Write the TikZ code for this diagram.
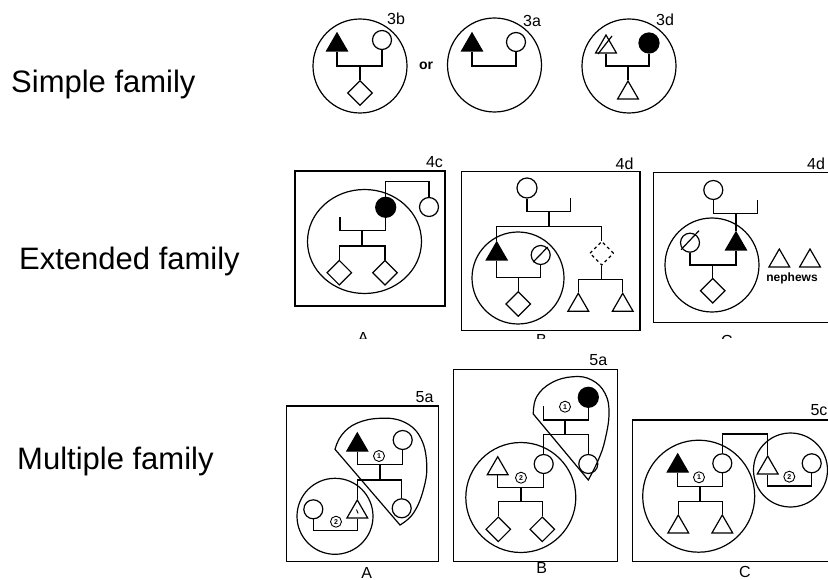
\documentclass[tikz,border=0pt]{standalone}
\usepackage{fontspec}
\setmainfont{Liberation Sans}
\usetikzlibrary{shapes.geometric,calc}
\tikzset{
 ln/.style={line width=1.2pt},
 per/.style={draw, line width=1.2pt, inner sep=0pt},
 fem/.style={per, circle, minimum size=19pt},
 ffem/.style={fem, fill=black, minimum size=20pt},
 mal/.style={per, regular polygon, regular polygon sides=3, minimum size=24pt},
 fmal/.style={mal, fill=black},
 unk/.style={per, diamond, minimum size=25pt},
 ring/.style={draw, line width=1.2pt, circle, inner sep=0pt},
 numc/.style={draw, circle, line width=0.9pt, minimum size=11pt, inner sep=0pt, font=\fontsize{7}{7}\selectfont\bfseries},
 tag/.style={font=\fontsize{16}{16}\selectfont, inner sep=0pt},
 big/.style={font=\fontsize{16}{16}\selectfont, inner sep=0pt},
 side/.style={font=\fontsize{31}{36}\selectfont, anchor=base west, inner sep=0pt},
 panel/.style={line width=1.2pt},
}
\begin{document}
\begin{tikzpicture}[x=1pt,y=-1pt]
\useasboundingbox (0,0) rectangle (828,580);
\clip (0,0) rectangle (828,580);
\fill[white] (0,0) rectangle (828,580);

% side labels
\node[side] (L1) at (11,93) {Simple family};
\node[side] (L2) at (19,270) {Extended family};
\node[side] (L3) at (17,469) {Multiple family};

% ================= ROW 1 =================
% 3b
\node[ring, minimum size=94pt] (R3b) at (360,66) {};
\node[tag] (T3b) at (396,19) {3b};
\node[fmal] (t3b) at (337,45) {};
\node[fem] (c3b) at (382,40) {};
\node[unk] (d3b) at (360,93) {};
\coordinate (m3b) at (360,66);
\draw[ln] (t3b.south) |- (m3b) -| (c3b.south);
\draw[ln] (m3b) -- (d3b.north);
\node[font=\fontsize{14}{14}\selectfont\bfseries, inner sep=0pt] (or) at (426,66) {or};

% 3a
\node[ring, minimum size=94pt] (R3a) at (494.5,65) {};
\node[tag] (T3a) at (532,21) {3a};
\node[fmal] (t3a) at (472,45) {};
\node[fem] (c3a) at (516,42) {};
\coordinate (m3a) at (494,66);
\draw[ln] (t3a.south) |- (m3a) -| (c3a.south);

% 3d
\node[ring, minimum size=94pt] (R3d) at (629,66) {};
\node[tag] (T3d) at (665,20) {3d};
\node[mal] (t3d) at (606,47) {};
\draw[ln] ($(t3d)+(-8,7)$) -- ($(t3d)+(6,-11)$);
\node[ffem] (c3d) at (649,43) {};
\node[mal] (k3d) at (628,93) {};
\coordinate (m3d) at (628,66);
\draw[ln] (t3d.south) |- (m3d) -| (c3d.south);
\draw[ln] (m3d) -- (k3d.north);

% ================= ROW 2 =================
% 4c (A)
\draw[panel] (295,171) rectangle (445,306);
\node[tag] (T4c) at (434.5,162) {4c};
\node[draw, line width=1.2pt, ellipse, minimum width=114pt, minimum height=104pt, inner sep=0pt] (R4c) at (364.5,241.5) {};
\node[ffem] (f4c) at (385.7,207.3) {};
\node[fem] (c4c) at (429,207) {};
\coordinate (k4c) at (407,181.7);
\draw[ln] (f4c.north) |- (k4c) -| (c4c.north);
\coordinate (m4c) at (362,230.7);
\coordinate (e4c) at (340,217);
\draw[ln] (f4c.south) |- (m4c) -| (e4c);
\coordinate (s4c) at (362,246);
\node[unk] (d4c1) at (339.3,272.7) {};
\node[unk] (d4c2) at (385,272.7) {};
\draw[ln] (m4c) -- (s4c);
\draw[ln] (d4c1.north) |- (s4c) -| (d4c2.north);

% 4d (B)
\draw[panel] (461.7,171.7) rectangle (640,330.7);
\node[tag] (T4d) at (624.5,163.8) {4d};
\node[fem, minimum size=20pt] (g4d) at (527,188) {};
\coordinate (m4dg) at (549,211.7);
\coordinate (e4dg) at (570.7,198);
\draw[ln] (g4d.south) |- (m4dg) -| (e4dg);
\coordinate (s4d) at (549,226.7);
\draw[ln] (m4dg) -- (s4d);
\node[ring, minimum size=92pt] (R4d) at (518,278) {};
\node[fmal] (t4d) at (496.7,254) {};
\node[per, dashed, diamond, minimum size=24pt] (dd4d) at (601.7,253.3) {};
\draw[ln] (t4d.north) |- (s4d) -| (dd4d.north);
\node[fem] (sc4d) at (540.7,255) {};
\draw[ln] ($(sc4d)+(-7.5,7)$) -- ($(sc4d)+(7,-8)$);
\coordinate (m4d) at (518.3,277.3);
\draw[ln] (t4d.south) |- (m4d) -| (sc4d.south);
\node[unk] (d4d) at (518.3,304) {};
\draw[ln] (m4d) -- (d4d.north);
\coordinate (s4dn) at (601.7,279.3);
\node[mal] (tn1) at (578.3,305.3) {};
\node[mal] (tn2) at (622.7,305.3) {};
\draw[ln] (dd4d.south) -- (s4dn);
\draw[ln] (tn1.north) |- (s4dn) -| (tn2.north);

% 4d (C)
\draw[panel] (840,172.7) -- (653.3,172.7) -- (653.3,322.7) -- (840,322.7);
\node[tag] (T4dC) at (816,164) {4d};
\node[fem] (h4d) at (713.3,190) {};
\coordinate (m4dh) at (736,213.3);
\coordinate (e4dh) at (757.3,200);
\draw[ln] (h4d.south) |- (m4dh) -| (e4dh);
\node[ring, minimum size=94pt] (R4dC) at (712,265) {};
\node[fmal] (ft4d) at (736,244) {};
\draw[ln] (m4dh) -- (ft4d.north);
\node[fem] (sc4dC) at (690,242.7) {};
\draw[ln] ($(sc4dC)+(-9,7)$) -- ($(sc4dC)+(9,-12)$);
\coordinate (m4dC) at (712.7,265);
\draw[ln] (sc4dC.south) |- (m4dC) -| (ft4d.south);
\node[unk] (d4dC) at (712.7,290.7) {};
\draw[ln] (m4dC) -- (d4dC.north);
\node[mal] (nep1) at (779.3,261) {};
\node[mal] (nep2) at (810,261) {};
\node[font=\fontsize{12}{12}\selectfont\bfseries, inner sep=0pt] (nep) at (792,278) {nephews};

% clipped letters under row 2
\begin{scope}
\clip (280,325) rectangle (828,338.5);
\node[big, anchor=north] (la) at (363.3,332.5) {A};
\node[big, anchor=north] (lb) at (541.5,334) {B};
\node[big, anchor=north] (lc) at (727,335.5) {C};
\end{scope}

% ================= ROW 3 =================
% A
\draw[panel] (286.7,406) rectangle (438.3,561.7);
\node[tag] (T5a) at (424.5,396.7) {5a};
\draw[ln] plot[smooth, tension=0.7] coordinates {(335,449.3) (341.7,435) (356.7,423.3) (380,418.3) (403.3,421.7) (420,436.7) (426.7,463.3) (423.3,490) (413.3,513.3) (400,525)} -- cycle;
\node[fmal] (ftA) at (357.3,445) {};
\node[fem] (cA1) at (402.7,440) {};
\node[numc] (n1A) at (379,456) {1};
\coordinate (mA) at (380,464.3);
\draw[ln] (ftA.south) |- (mA) -| (cA1.south);
\coordinate (sA) at (380,480);
\draw[ln] (mA) -- (sA);
\node[mal] (tA2) at (357.3,512) {};
\node[fem] (cA2) at (401.7,508.3) {};
\draw[ln] (tA2.north) |- (sA) -| (cA2.north);
\draw[line width=0.9pt] ($(tA2)+(-0.8,-2.5)$) -- ($(tA2)+(0.8,1.5)$);
\node[ring, minimum size=76pt] (RA2) at (335,516.3) {};
\node[fem] (cA3) at (313.3,509.3) {};
\coordinate (mA2) at (335.3,530.7);
\draw[ln] (cA3.south) |- (mA2) -| (tA2.south);
\node[numc] (n2A) at (336,521.7) {2};
\node[big] (LA) at (366.7,572.5) {A};

% B
\draw[panel] (453.3,369.3) rectangle (617.7,561.7);
\node[tag] (T5aB) at (598.3,360) {5a};
\draw[ln] plot[smooth, tension=0.7] coordinates {(533.3,414) (536.7,396.7) (551.7,382.7) (573.3,376.7) (591.7,380) (605,393.3) (609,413.3) (605,440) (598.3,460) (588.3,480)} -- cycle;
\node[ffem] (fB) at (588.3,397.3) {};
\node[numc] (n1B) at (565,406.7) {1};
\coordinate (eB) at (543.3,406);
\coordinate (mB) at (565,420);
\draw[ln] (eB) |- (mB) -| (fB.south);
\coordinate (sB) at (565,434.3);
\draw[ln] (mB) -- (sB);
\node[fem] (cB1) at (543.7,464) {};
\node[fem] (cB2) at (588.3,464) {};
\draw[ln] (cB1.north) |- (sB) -| (cB2.north);
\node[ring, minimum size=110pt] (RB2) at (520.8,497.5) {};
\node[mal] (tB) at (497.7,468.7) {};
\coordinate (mB2) at (521,487.3);
\draw[ln] (tB.south) |- (mB2) -| (cB1.south);
\node[numc] (n2B) at (521,477.7) {2};
\coordinate (sB2) at (521,501.7);
\draw[ln] (mB2) -- (sB2);
\node[unk] (dB1) at (498.3,529.3) {};
\node[unk] (dB2) at (542.3,529.3) {};
\draw[ln] (dB1.north) |- (sB2) -| (dB2.north);
\node[big] (LB) at (541.7,568.3) {B};

% C
\draw[panel] (840,420) -- (632.3,420) -- (632.3,561.7) -- (840,561.7);
\node[tag] (T5c) at (819,410.5) {5c};
\node[ring, minimum size=112pt] (RC1) at (698.7,496.2) {};
\node[fmal] (ftC) at (677.7,466) {};
\node[fem] (cC1) at (722.3,463.3) {};
\node[numc] (n1C) at (699,477.3) {1};
\coordinate (mC) at (700,486.7);
\draw[ln] (ftC.south) |- (mC) -| (cC1.south);
\coordinate (sC) at (700,501.7);
\draw[ln] (mC) -- (sC);
\node[mal] (tC1) at (678.3,527) {};
\node[mal] (tC2) at (722.3,527) {};
\draw[ln] (tC1.north) |- (sC) -| (tC2.north);
\node[ring, minimum size=74pt] (RC2) at (790.5,470) {};
\node[mal] (tC3) at (767.7,468) {};
\coordinate (kC) at (745,434);
\draw[ln] (cC1.north) |- (kC) -| (tC3.north);
\node[fem] (cC2) at (811.7,463.3) {};
\coordinate (mC2) at (789.7,486);
\draw[ln] (tC3.south) |- (mC2) -| (cC2.south);
\node[numc] (n2C) at (789.3,476.7) {2};
\node[big] (LC) at (745,571.5) {C};
\end{tikzpicture}
\end{document}
